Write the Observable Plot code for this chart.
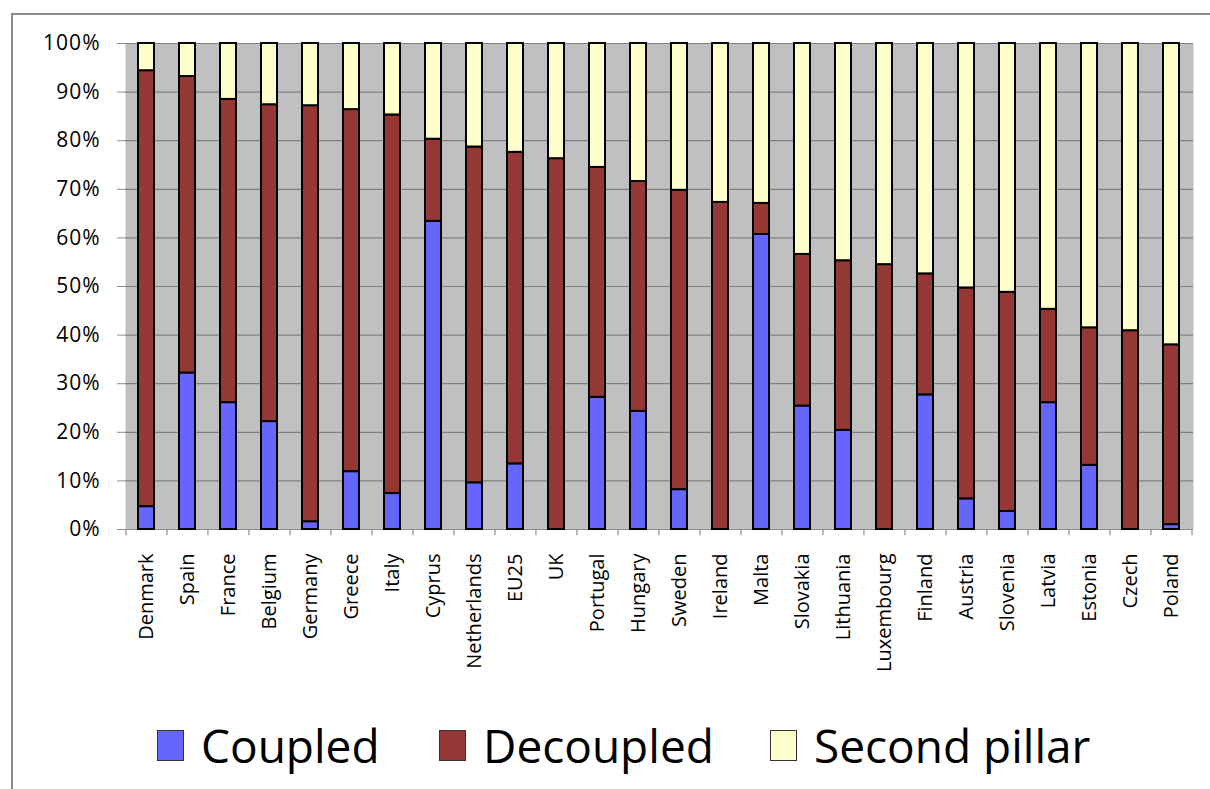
<!DOCTYPE html>
<html>
<head>
<meta charset="utf-8">
<script src="https://cdn.jsdelivr.net/npm/d3@7"></script>
<script src="https://cdn.jsdelivr.net/npm/@observablehq/plot@0.6"></script>
<style>
  html, body { margin: 0; padding: 0; background: #fff; overflow: hidden; }
  #wrap { position: relative; width: 1210px; height: 789px; font-family: 'Open Sans', sans-serif; }
  #chart { position: absolute; left: 0; top: 0; }
  #frame { position: absolute; left: 11px; top: 13px; width: 1300px; height: 900px; border: 2px solid #8c8c8c; pointer-events: none; z-index: 2; }
  .item { position: absolute; top: 722px; height: 46px; display: flex; align-items: center; font-size: 46px; color: #000; }
  .sw { width: 27px; height: 31px; border: 1.5px solid #333; box-sizing: border-box; margin-right: 17px; }
</style>
</head>
<body>
<div id="wrap">
  <div id="chart"></div>
  <div id="legend"></div>
  <div id="frame"></div>
</div>
<script>
const categories = ["Denmark","Spain","France","Belgium","Germany","Greece","Italy","Cyprus","Netherlands","EU25","UK","Portugal","Hungary","Sweden","Ireland","Malta","Slovakia","Lithuania","Luxembourg","Finland","Austria","Slovenia","Latvia","Estonia","Czech","Poland"];
const coupled      = [4.7, 32.2, 26.1, 22.2, 1.6, 11.9, 7.4, 63.4, 9.6, 13.5, 0, 27.2, 24.3, 8.2, 0, 60.7, 25.4, 20.4, 0, 27.7, 6.3, 3.7, 26.1, 13.2, 0, 1.0];
const decoupled    = [89.7, 61.0, 62.4, 65.2, 85.6, 74.5, 77.9, 16.9, 69.1, 64.1, 76.3, 47.3, 47.3, 61.6, 67.3, 6.4, 31.2, 34.9, 54.5, 24.9, 43.4, 45.1, 19.2, 28.3, 40.9, 37.0];
const secondPillar = [5.6, 6.8, 11.5, 12.6, 12.8, 13.6, 14.7, 19.7, 21.3, 22.4, 23.7, 25.5, 28.4, 30.2, 32.7, 32.9, 43.4, 44.7, 45.5, 47.4, 50.3, 51.2, 54.7, 58.5, 59.1, 62.0];
const seriesNames = ["Coupled", "Decoupled", "Second pillar"];
const seriesColors = ["#6666ff", "#953735", "#ffffcc"];
const yTicks = [0, 10, 20, 30, 40, 50, 60, 70, 80, 90, 100];

const seriesValues = [coupled, decoupled, secondPillar];
const data = categories.flatMap((c, i) =>
  seriesNames.map((s, k) => ({country: c, series: s, value: seriesValues[k][i]}))
).filter(d => d.value > 0);

const W = 1210, H = 700, mL = 125, mR = 17, mT = 43, mB = 171;
const step = (W - mL - mR) / categories.length;

const chart = Plot.plot({
  width: W,
  height: H,
  marginLeft: mL,
  marginRight: mR,
  marginTop: mT,
  marginBottom: mB,
  style: {fontFamily: "'Open Sans', sans-serif", background: "transparent", color: "#000"},
  x: {domain: categories, paddingInner: 0.6, paddingOuter: 0.3},
  y: {domain: [0, 100]},
  color: {domain: seriesNames, range: seriesColors},
  marks: [
    Plot.frame({fill: "#c0c0c0", stroke: null}),
    Plot.gridY({ticks: yTicks, stroke: "#808080", strokeOpacity: 1, strokeWidth: 1.2}),
    Plot.ruleY([0], {stroke: "#8c8c8c", strokeWidth: 1.2}),
    Plot.ruleX(categories, {x: d => d, y1: 0, y2: -1.3, dx: -step / 2, stroke: "#8c8c8c", strokeWidth: 1.2}),
    Plot.ruleX([categories[categories.length - 1]], {x: d => d, y1: 0, y2: -1.3, dx: step / 2, stroke: "#8c8c8c", strokeWidth: 1.2}),
    Plot.barY(data, {x: "country", y: "value", fill: "series", z: "series", order: seriesNames, stroke: "#000", strokeWidth: 2}),
    Plot.axisY({ticks: yTicks, tickFormat: d => d + "%", tickSize: 8, tickPadding: 17, fontSize: 21, stroke: "#8c8c8c", label: null}),
    Plot.axisX({tickSize: 0, tickPadding: 24, tickRotate: -90, fontSize: 20, label: null})
  ]
});
chart.querySelectorAll("g[aria-label='y-axis tick label'] text").forEach(t => t.setAttribute("letter-spacing", "1"));
document.getElementById("chart").appendChild(chart);

const legendLefts = [157, 439, 770];
const legend = document.getElementById("legend");
seriesNames.forEach((s, i) => {
  const item = document.createElement("div");
  item.className = "item";
  item.style.left = legendLefts[i] + "px";
  const sw = document.createElement("div");
  sw.className = "sw";
  sw.style.background = seriesColors[i];
  const label = document.createElement("span");
  label.textContent = s;
  item.appendChild(sw);
  item.appendChild(label);
  legend.appendChild(item);
});
</script>
</body>
</html>
